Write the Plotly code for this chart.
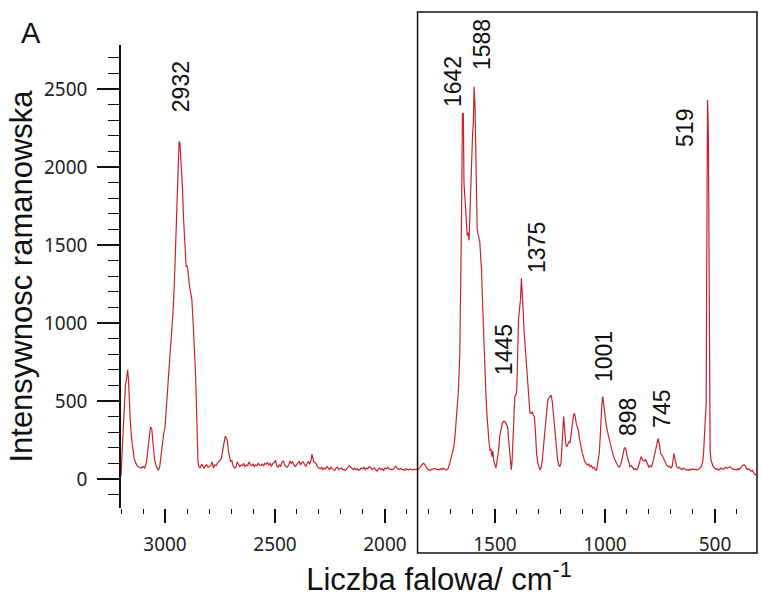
import plotly.graph_objects as go

# Raman spectrum (wavenumber in cm-1, intensity)
wavenumber = [
    3200, 3195, 3190, 3185, 3180, 3175, 3170, 3166, 3162, 3158, 3152, 3146, 3140, 3132, 3124, 3116,
    3108, 3100, 3092, 3084, 3078, 3072, 3066, 3060, 3054, 3048, 3042, 3036, 3030, 3024, 3018, 3012,
    3006, 3000, 2994, 2988, 2982, 2976, 2970, 2964, 2958, 2952, 2948, 2944, 2940, 2936, 2932, 2928,
    2924, 2920, 2916, 2912, 2908, 2904, 2900, 2896, 2890, 2884, 2878, 2872, 2866, 2862, 2858, 2854,
    2850, 2846, 2840, 2834, 2828, 2822, 2816, 2810, 2804, 2798, 2792, 2786, 2780, 2774, 2768, 2762,
    2756, 2750, 2744, 2738, 2732, 2726, 2720, 2716, 2712, 2708, 2702, 2696, 2690, 2684, 2678, 2672,
    2666, 2660, 2654, 2648, 2642, 2636, 2630, 2624, 2618, 2612, 2606, 2600, 2594, 2588, 2582, 2576,
    2570, 2564, 2558, 2552, 2546, 2540, 2534, 2528, 2522, 2516, 2510, 2504, 2498, 2492, 2486, 2480,
    2474, 2468, 2462, 2456, 2450, 2444, 2438, 2432, 2426, 2420, 2414, 2408, 2402, 2396, 2390, 2384,
    2378, 2372, 2366, 2360, 2354, 2348, 2342, 2336, 2332, 2328, 2324, 2318, 2312, 2306, 2300, 2294,
    2288, 2282, 2276, 2270, 2264, 2258, 2252, 2246, 2240, 2234, 2228, 2222, 2216, 2210, 2204, 2198,
    2192, 2186, 2180, 2174, 2168, 2162, 2156, 2150, 2144, 2138, 2132, 2126, 2120, 2114, 2108, 2102,
    2096, 2090, 2084, 2078, 2072, 2066, 2060, 2054, 2048, 2042, 2036, 2030, 2024, 2018, 2012, 2006,
    2000, 1994, 1988, 1982, 1976, 1970, 1964, 1958, 1952, 1946, 1940, 1934, 1928, 1922, 1916, 1910,
    1904, 1898, 1892, 1886, 1880, 1874, 1868, 1862, 1856, 1850, 1844, 1838, 1832, 1826, 1820, 1814,
    1808, 1802, 1796, 1790, 1784, 1778, 1772, 1766, 1760, 1754, 1748, 1742, 1736, 1730, 1724, 1718,
    1712, 1706, 1700, 1694, 1688, 1682, 1676, 1670, 1666, 1660, 1656, 1652, 1648, 1644, 1641, 1638,
    1634, 1630, 1626, 1622, 1618, 1614, 1610, 1606, 1602, 1598, 1595, 1591, 1588, 1584, 1581, 1577,
    1573, 1569, 1565, 1561, 1557, 1553, 1547, 1542, 1537, 1533, 1528, 1523, 1518, 1514, 1510, 1506,
    1500, 1496, 1490, 1484, 1478, 1472, 1466, 1460, 1454, 1448, 1442, 1438, 1434, 1430, 1426, 1422,
    1418, 1414, 1410, 1405, 1401, 1397, 1393, 1388, 1384, 1380, 1376, 1372, 1368, 1364, 1358, 1354,
    1350, 1345, 1341, 1336, 1330, 1326, 1321, 1316, 1311, 1305, 1300, 1295, 1290, 1285, 1280, 1275,
    1270, 1265, 1260, 1255, 1250, 1245, 1240, 1235, 1230, 1225, 1220, 1215, 1210, 1205, 1200, 1195,
    1191, 1188, 1185, 1182, 1178, 1174, 1168, 1163, 1159, 1154, 1148, 1143, 1139, 1135, 1130, 1125,
    1121, 1116, 1110, 1104, 1098, 1092, 1086, 1080, 1074, 1068, 1062, 1056, 1050, 1044, 1038, 1034,
    1030, 1026, 1022, 1018, 1014, 1010, 1006, 1002, 998, 994, 988, 982, 977, 972, 966, 960,
    955, 950, 945, 940, 934, 928, 922, 916, 912, 908, 904, 900, 895, 890, 886, 880,
    874, 868, 862, 856, 850, 844, 840, 836, 832, 828, 822, 816, 811, 806, 800, 794,
    788, 782, 776, 770, 766, 762, 758, 754, 750, 746, 740, 735, 730, 725, 720, 716,
    712, 706, 700, 694, 690, 686, 682, 678, 674, 668, 662, 656, 650, 644, 638, 632,
    626, 620, 614, 608, 602, 596, 590, 584, 578, 572, 568, 562, 556, 552, 548, 544,
    540, 538, 536, 534, 532, 530, 528, 527, 525, 522, 518, 514, 510, 505, 500, 494,
    488, 485, 480, 474, 468, 462, 456, 450, 444, 438, 432, 426, 420, 414, 408, 402,
    396, 390, 385, 380, 375, 370, 364, 358, 352, 346, 341, 336, 330, 325, 320, 315,
    311,
]
intensity = [
    20, 160, 250, 420, 600, 640, 700, 640, 480, 380, 260, 190, 130, 100, 80, 75,
    70, 80, 70, 110, 190, 300, 335, 320, 220, 130, 90, 70, 55, 80, 160, 220,
    290, 330, 480, 620, 700, 820, 920, 1060, 1230, 1480, 1600, 1800, 2050, 2165, 2150, 2050,
    1980, 1850, 1680, 1560, 1400, 1360, 1370, 1340, 1250, 1180, 1150, 1000, 840, 700, 520, 300,
    110, 80, 70, 95, 85, 70, 85, 90, 75, 80, 85, 110, 70, 90, 85, 100,
    110, 120, 130, 180, 220, 275, 260, 240, 180, 150, 110, 120, 80, 70, 75, 110,
    95, 80, 90, 85, 100, 80, 90, 85, 110, 90, 85, 95, 80, 90, 85, 100,
    90, 85, 95, 85, 100, 95, 105, 90, 100, 80, 100, 105, 120, 85, 75, 90,
    80, 110, 115, 90, 80, 75, 90, 115, 100, 110, 90, 80, 90, 100, 115, 90,
    105, 110, 95, 80, 100, 110, 95, 120, 160, 130, 110, 105, 95, 75, 70, 65,
    75, 60, 70, 65, 80, 70, 60, 75, 65, 60, 55, 70, 75, 60, 65, 70,
    60, 60, 55, 65, 70, 85, 75, 65, 60, 70, 60, 65, 55, 60, 70, 65,
    75, 60, 70, 65, 80, 75, 60, 65, 70, 60, 50, 65, 70, 60, 65, 55,
    70, 65, 75, 65, 60, 62, 60, 70, 85, 70, 65, 60, 68, 60, 62, 55,
    65, 60, 58, 65, 60, 58, 62, 60, 58, 60, 70, 80, 95, 100, 95, 80,
    65, 60, 55, 62, 60, 68, 65, 60, 62, 58, 65, 60, 70, 65, 58, 60,
    70, 100, 130, 160, 200, 270, 380, 480, 570, 800, 1170, 1700, 2340, 2346, 1900, 1830,
    1700, 1600, 1560, 1580, 1530, 1700, 1920, 2050, 2200, 2300, 2515, 2400, 2200, 1800, 1600, 1570,
    1550, 1520, 1420, 1340, 1150, 955, 760, 570, 420, 314, 250, 186, 190, 143, 180, 120,
    90, 70, 120, 180, 280, 320, 360, 370, 365, 350, 330, 250, 165, 100, 60, 120,
    300, 460, 528, 540, 570, 800, 1019, 1100, 1150, 1286, 1200, 1083, 950, 870, 741, 700,
    560, 480, 421, 420, 430, 410, 400, 300, 165, 100, 70, 58, 75, 120, 200, 271,
    380, 460, 506, 520, 530, 538, 500, 420, 320, 250, 180, 120, 90, 79, 100, 200,
    300, 400, 350, 250, 220, 207, 230, 240, 231, 300, 380, 410, 421, 400, 350, 320,
    314, 260, 210, 170, 143, 110, 100, 90, 95, 79, 85, 70, 75, 60, 58, 90,
    140, 165, 260, 420, 480, 528, 480, 420, 378, 340, 300, 260, 231, 200, 170, 140,
    122, 110, 90, 79, 75, 95, 130, 180, 199, 200, 185, 150, 120, 95, 79, 85,
    70, 60, 65, 58, 70, 100, 130, 143, 135, 120, 115, 125, 111, 90, 75, 85,
    79, 110, 150, 200, 230, 255, 261, 230, 180, 160, 150, 135, 115, 110, 90, 85,
    79, 80, 70, 85, 150, 165, 130, 90, 79, 70, 75, 65, 60, 70, 62, 58,
    60, 55, 62, 58, 65, 60, 62, 58, 60, 65, 70, 80, 110, 165, 250, 380,
    487, 1200, 2000, 2430, 2350, 2194, 1500, 800, 271, 180, 122, 100, 85, 75, 70, 60,
    65, 58, 60, 70, 65, 62, 70, 75, 68, 72, 79, 70, 65, 60, 62, 58,
    65, 60, 70, 80, 85, 90, 88, 70, 60, 65, 58, 50, 55, 40, 30, 28,
    26,
]

# Peak annotations
peak_labels = ["2932", "1642", "1588", "1375", "1445", "1001", "898", "745", "519"]
label_x = [2927, 1691, 1559, 1309, 1459, 1005, 895, 741, 636]          # data x
label_y = [0.909, 0.922, 1.0, 0.5616, 0.341, 0.328, 0.1965, 0.214, 0.821]  # paper y

x_range = [3200, 309]
y_range = [-186, 2782]
fingerprint_start = 1852

fig = go.Figure()
fig.add_trace(go.Scatter(
    x=wavenumber, y=intensity, mode="lines",
    line=dict(color="#c8232a", width=1.2), showlegend=False, hoverinfo="skip",
))

tick_font = dict(family="Noto Sans, DejaVu Sans, sans-serif", size=19, color="#222222")
title_font = dict(family="Liberation Sans, Arial, sans-serif", size=31, color="#111111")

fig.update_xaxes(
    range=x_range, showline=False, showgrid=False, zeroline=False,
    tickmode="linear", tick0=0, dtick=500,
    ticks="outside", ticklen=14, tickwidth=1.5, tickcolor="#111111",
    minor=dict(dtick=100, ticks="outside", ticklen=5, tickwidth=1.2, tickcolor="#111111", showgrid=False),
    tickfont=tick_font, ticklabelstandoff=5,
    title=dict(text="Liczba falowa/ cm<sup>-1</sup>", font=title_font, standoff=6),
)
fig.update_yaxes(
    range=y_range, showline=True, linecolor="#111111", linewidth=1.5,
    showgrid=False, zeroline=False,
    tickmode="linear", tick0=0, dtick=500,
    ticks="outside", ticklen=22, tickwidth=1.5, tickcolor="#111111",
    minor=dict(dtick=100, ticks="outside", ticklen=11, tickwidth=1.2, tickcolor="#111111", showgrid=False),
    tickfont=tick_font, ticklabelstandoff=6,
    title=dict(text="Intensywnosc ramanowska", font=title_font, standoff=2),
)

for txt, lx, ly in zip(peak_labels, label_x, label_y):
    fig.add_annotation(
        x=lx, y=ly, xref="x", yref="paper", text=txt, textangle=-90,
        showarrow=False, xanchor="center", yanchor="middle",
        font=dict(family="Liberation Sans, Arial, sans-serif", size=23, color="#111111"),
    )

fig.add_annotation(
    x=-0.1415, y=1.026, xref="paper", yref="paper", text="A", showarrow=False,
    xanchor="center", yanchor="middle",
    font=dict(family="Liberation Sans, Arial, sans-serif", size=29, color="#111111"),
)

box_x0 = (x_range[0] - fingerprint_start) / (x_range[0] - x_range[1])
fig.add_shape(
    type="rect", xref="paper", yref="paper",
    x0=box_x0, x1=1.0, y0=-0.0972, y1=1.0713,
    line=dict(color="#111111", width=1.5), fillcolor="rgba(0,0,0,0)", layer="above",
)

fig.update_layout(
    width=762, height=598,
    margin=dict(l=121, r=5, t=45, b=90, autoexpand=False),
    paper_bgcolor="white", plot_bgcolor="white",
    showlegend=False,
)

fig.write_html("out.html")
